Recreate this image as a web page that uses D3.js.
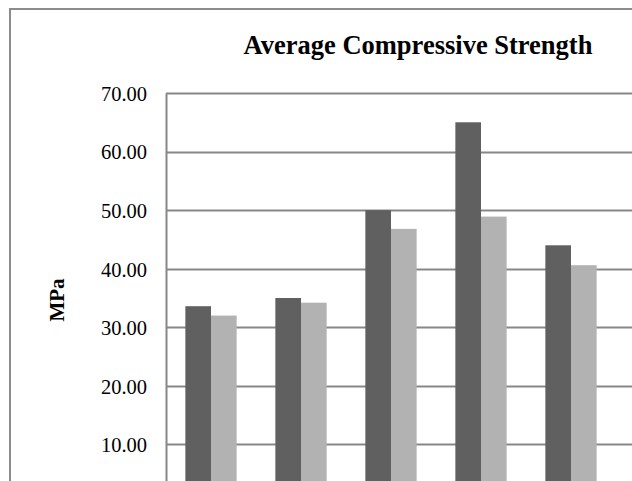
<!DOCTYPE html>
<html>
<head>
<meta charset="utf-8">
<script src="https://cdn.jsdelivr.net/npm/d3@7"></script>
<style>
  html, body { margin: 0; padding: 0; background: #fff; overflow: hidden; }
  svg { display: block; }
  text { font-family: "Liberation Serif", "Times New Roman", serif; fill: #000; }
</style>
</head>
<body>
<svg id="chart" width="632" height="481"></svg>
<script>
// Mix designs along the x axis
const categories = ["Mix 1", "Mix 2", "Mix 3", "Mix 4", "Mix 5"];
// Average compressive strength (MPa) for the two test series
const seriesNames = ["Series 1", "Series 2"];
const series1 = [33.6, 35.0, 50.0, 65.0, 44.0];
const series2 = [32.0, 34.2, 46.8, 48.9, 40.6];
// Value-axis tick labels shown
const yTicks = [10, 20, 30, 40, 50, 60, 70];

const svg = d3.select("#chart");

// Chart frame
const frame = { left: 10, top: 9, right: 700, bottom: 560 };
// Plot area
const plot = { left: 166, top: 93, step: 90, right: 720 };

const y = d3.scaleLinear().domain([0, 70]).range([503, plot.top]);
// Column groups with a 150% gap between clusters
const x = d3.scaleBand()
  .domain(categories)
  .range([plot.left, plot.left + plot.step * categories.length])
  .paddingInner(0.43)
  .paddingOuter(0.215);
const xs = d3.scaleBand().domain(seriesNames).range([0, x.bandwidth()]);
const colors = d3.scaleOrdinal().domain(seriesNames).range(["#606060", "#b2b2b2"]);

// Outer border
svg.append("rect")
  .attr("x", frame.left).attr("y", frame.top)
  .attr("width", frame.right - frame.left).attr("height", frame.bottom - frame.top)
  .attr("fill", "#fff").attr("stroke", "#8c8c8c").attr("stroke-width", 2);

// Horizontal gridlines
svg.append("g")
  .selectAll("line")
  .data(yTicks)
  .join("line")
  .attr("x1", plot.left).attr("x2", plot.right)
  .attr("y1", d => Math.round(y(d)) + 0.5).attr("y2", d => Math.round(y(d)) + 0.5)
  .attr("stroke", "#878787").attr("stroke-width", 2);

// Value axis
const yAxis = d3.axisLeft(y)
  .tickValues(yTicks)
  .tickFormat(d3.format(".2f"))
  .tickSize(0)
  .tickPadding(19);
const gy = svg.append("g").attr("transform", `translate(${plot.left},0)`).call(yAxis);
gy.attr("font-family", null).attr("font-size", null);
gy.select(".domain").attr("stroke", "#878787").attr("stroke-width", 2);
gy.selectAll("text")
  .style("font-family", '"Liberation Serif", "Times New Roman", serif')
  .style("font-size", "20.5px")
  .attr("dy", "0.36em")
  .attr("fill", "#000");

// Bars
const rows = categories.map((c, i) => ({ cat: c, values: [series1[i], series2[i]] }));
svg.append("g")
  .selectAll("g")
  .data(rows)
  .join("g")
  .attr("transform", d => `translate(${x(d.cat)},0)`)
  .selectAll("rect")
  .data(d => d.values.map((v, k) => ({ name: seriesNames[k], value: v })))
  .join("rect")
  .attr("x", d => xs(d.name))
  .attr("width", xs.bandwidth())
  .attr("y", d => y(d.value))
  .attr("height", d => y(0) - y(d.value))
  .attr("fill", d => colors(d.name));

// Title
svg.append("text")
  .attr("x", 418).attr("y", 54)
  .attr("text-anchor", "middle")
  .style("font-size", "26.5px").style("font-weight", "bold")
  .text("Average Compressive Strength");

// Axis title
svg.append("text")
  .attr("transform", "translate(64,300) rotate(-90)")
  .attr("text-anchor", "middle")
  .style("font-size", "21px").style("font-weight", "bold")
  .text("MPa");
</script>
</body>
</html>
